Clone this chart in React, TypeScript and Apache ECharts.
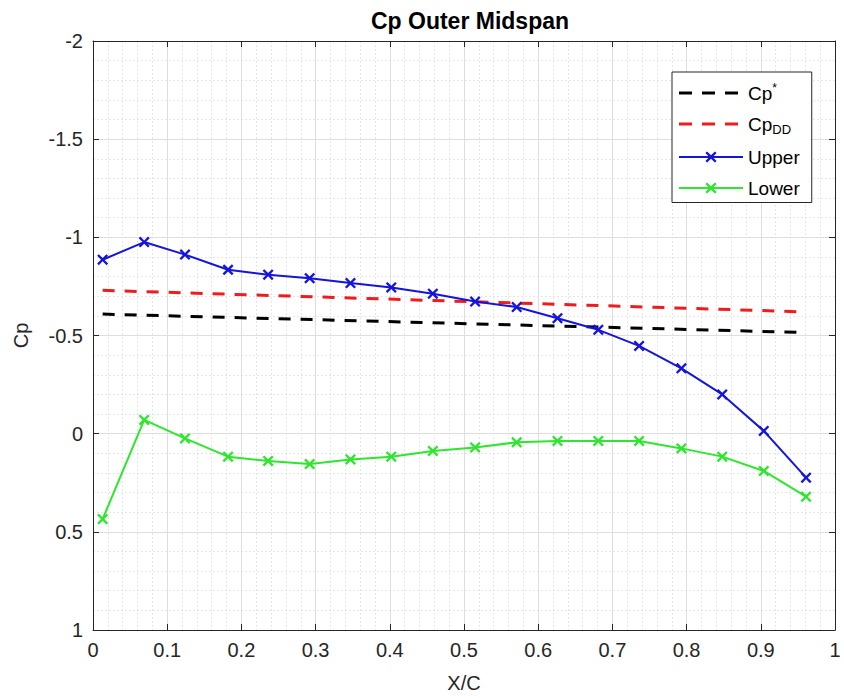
import React, { useEffect, useRef } from 'react';
import * as echarts from 'echarts';

const FONT = '"Liberation Sans", Arial, Helvetica, sans-serif';

// X/C stations
const xc = [0.013, 0.069, 0.124, 0.182, 0.236, 0.292, 0.347, 0.402, 0.458, 0.515, 0.571, 0.626, 0.681, 0.736, 0.793, 0.848, 0.904, 0.961];
const upper = [-0.886, -0.976, -0.912, -0.835, -0.81, -0.792, -0.767, -0.745, -0.713, -0.673, -0.645, -0.588, -0.529, -0.447, -0.333, -0.2, -0.014, 0.224];
const lower = [0.435, -0.07, 0.024, 0.117, 0.139, 0.155, 0.131, 0.117, 0.088, 0.07, 0.044, 0.037, 0.037, 0.037, 0.075, 0.117, 0.19, 0.321];
const refX = [0.013, 0.961];
const cpStar = [-0.609, -0.515];
const cpDD = [-0.73, -0.62];

const seriesNames = ['Cp*', 'CpDD', 'Upper', 'Lower'];

const CROSS = 'path://M1.5,0L5,3.5L8.5,0L10,1.5L6.5,5L10,8.5L8.5,10L5,6.5L1.5,10L0,8.5L3.5,5L0,1.5Z';
const DASH_ICON = 'path://M0,0L0,0M0,5.5h13v3h-13zM23,5.5h13v3h-13zM46,5.5h13v3h-13zM64,14L64,14';

const pairs = (xs: number[], ys: number[]) => xs.map((x, i) => [x, ys[i]]);

const axisColor = '#262626';
const BLACK = '#000000';
const RED = '#ee1c1c';
const BLUE = '#1414dc';
const GREEN = '#2ee62e';

export default function App() {
  const ref = useRef<HTMLDivElement>(null);
  useEffect(() => {
    document.body.style.margin = '0';
    if (!ref.current) return;
    const chart = echarts.init(ref.current, undefined, { renderer: 'svg' });
    const labelStyle = { fontSize: 20, color: axisColor, fontFamily: FONT };
    const option: any = {
      animation: false,
      backgroundColor: '#ffffff',
      title: {
        text: 'Cp Outer Midspan',
        left: 465,
        top: 4,
        textAlign: 'center',
        textStyle: { fontFamily: FONT, fontSize: 23, fontWeight: 'bold', color: '#000' },
      },
      grid: { left: 93, right: 9, top: 41, bottom: 68, containLabel: false },
      legend: {
        data: [
          { name: seriesNames[0], icon: DASH_ICON, itemStyle: { color: BLACK } },
          { name: seriesNames[1], icon: DASH_ICON, itemStyle: { color: RED } },
          { name: seriesNames[2] },
          { name: seriesNames[3] },
        ],
        orient: 'vertical',
        left: 672,
        top: 72,
        padding: [10, 12, 5, 6],
        itemWidth: 64,
        itemHeight: 14,
        itemGap: 12,
        backgroundColor: '#ffffff',
        borderColor: axisColor,
        borderWidth: 1,
        borderRadius: 0,
        formatter: (name: string) => {
          if (name === 'Cp*') return '{n|Cp}{sup|*}';
          if (name === 'CpDD') return '{n|Cp}{sub|DD}';
          return '{n|' + name + '}';
        },
        textStyle: {
          fontFamily: FONT,
          color: '#000',
          rich: {
            n: { fontSize: 19, fontFamily: FONT, color: '#000', lineHeight: 22 },
            sup: { fontSize: 12, fontFamily: FONT, color: '#000', padding: [0, 0, 10, 0] },
            sub: { fontSize: 13, fontFamily: FONT, color: '#000', padding: [10, 0, 0, 0] },
          },
        },
      },
      xAxis: [
        {
          type: 'value',
          position: 'bottom',
          min: 0,
          max: 1,
          interval: 0.1,
          name: 'X/C',
          nameLocation: 'middle',
          nameGap: 43,
          nameTextStyle: { fontFamily: FONT, fontSize: 20, color: axisColor },
          axisLine: { show: true, onZero: false, lineStyle: { color: axisColor, width: 1 } },
          axisTick: { show: true, inside: true, length: 6, lineStyle: { color: axisColor } },
          axisLabel: { ...labelStyle, margin: 10 },
          splitLine: { show: true, lineStyle: { color: '#dedede', width: 1 } },
          minorTick: { show: false, splitNumber: 5 },
          minorSplitLine: { show: true, lineStyle: { color: '#e6e6e6', width: 1, type: [2, 2] } },
        },
        {
          type: 'value',
          position: 'top',
          min: 0,
          max: 1,
          interval: 0.1,
          axisLine: { show: true, onZero: false, lineStyle: { color: axisColor, width: 1 } },
          axisTick: { show: true, inside: true, length: 6, lineStyle: { color: axisColor } },
          axisLabel: { show: false },
          splitLine: { show: false },
        },
      ],
      yAxis: [
        {
          type: 'value',
          position: 'left',
          inverse: true,
          min: -2,
          max: 1,
          interval: 0.5,
          name: 'Cp',
          nameLocation: 'middle',
          nameGap: 62,
          nameTextStyle: { fontFamily: FONT, fontSize: 20, color: axisColor },
          axisLine: { show: true, onZero: false, lineStyle: { color: axisColor, width: 1 } },
          axisTick: { show: true, inside: true, length: 6, lineStyle: { color: axisColor } },
          axisLabel: { ...labelStyle, margin: 10 },
          splitLine: { show: true, lineStyle: { color: '#dedede', width: 1 } },
          minorTick: { show: false, splitNumber: 5 },
          minorSplitLine: { show: true, lineStyle: { color: '#e6e6e6', width: 1, type: [2, 2] } },
        },
        {
          type: 'value',
          position: 'right',
          inverse: true,
          min: -2,
          max: 1,
          interval: 0.5,
          axisLine: { show: true, onZero: false, lineStyle: { color: axisColor, width: 1 } },
          axisTick: { show: true, inside: true, length: 6, lineStyle: { color: axisColor } },
          axisLabel: { show: false },
          splitLine: { show: false },
        },
      ],
      series: [
        {
          name: 'Cp*',
          type: 'line',
          data: pairs(refX, cpStar),
          symbol: 'none',
          lineStyle: { color: BLACK, width: 3, type: [12, 10] },
          itemStyle: { color: BLACK },
          z: 3,
        },
        {
          name: 'CpDD',
          type: 'line',
          data: pairs(refX, cpDD),
          symbol: 'none',
          lineStyle: { color: RED, width: 3, type: [12, 10] },
          itemStyle: { color: RED },
          z: 3,
        },
        {
          name: 'Upper',
          type: 'line',
          data: pairs(xc, upper),
          symbol: CROSS,
          symbolSize: 11,
          lineStyle: { color: BLUE, width: 2 },
          itemStyle: { color: BLUE },
          z: 4,
        },
        {
          name: 'Lower',
          type: 'line',
          data: pairs(xc, lower),
          symbol: CROSS,
          symbolSize: 11,
          lineStyle: { color: GREEN, width: 2 },
          itemStyle: { color: GREEN },
          z: 4,
        },
      ],
    };
    chart.setOption(option);
    return () => {
      chart.dispose();
    };
  }, []);
  return <div ref={ref} style={{ width: 844, height: 698 }} />;
}
